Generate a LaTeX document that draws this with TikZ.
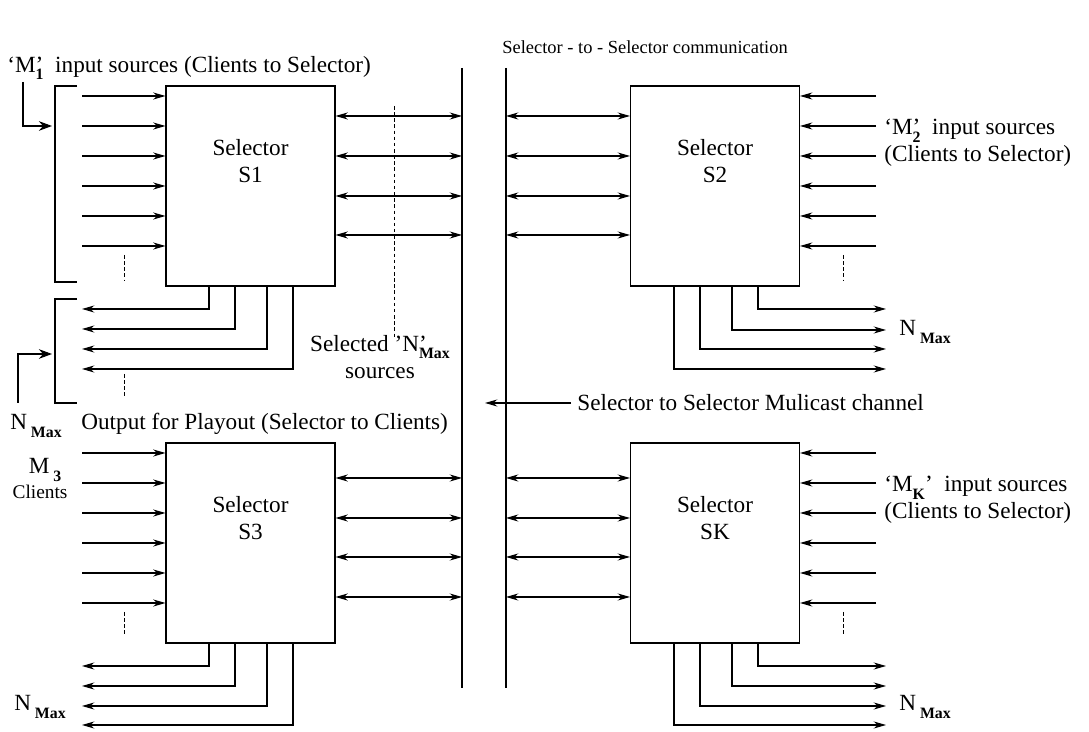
\documentclass[tikz,border=0pt]{standalone}
\usepackage{fontspec}
\setmainfont{Liberation Serif}
\usetikzlibrary{arrows.meta}

\newcommand{\lowsub}[1]{\raisebox{-0.7ex}{\fontsize{9}{10}\selectfont\bfseries #1}}
\newcommand{\nmax}{N\,\lowsub{Max}}

\begin{document}
\begin{tikzpicture}[x=0.02cm, y=-0.02cm, line width=0.6pt,
    font=\fontsize{13.2}{15.5}\selectfont,
    selbox/.style={draw, minimum width=3.38cm, minimum height=4cm, inner sep=0pt},
    arr/.style={-{Stealth[length=7pt, width=4pt]}},
    darr/.style={{Stealth[length=7pt, width=4pt]}-{Stealth[length=7pt, width=4pt]}},
    bigarr/.style={-{Stealth[length=7.5pt, width=5.5pt]}},
    dots/.style={dash pattern=on 2pt off 1.5pt, line width=0.5pt}]
    \useasboundingbox (0,0) rectangle (1089,732);

    \node[font=\fontsize{10.5}{12}\selectfont] at (645, 47) (title) {Selector - to - Selector communication};

    % multicast channel
    \coordinate (busLtop) at (462, 68);
    \coordinate (busLbot) at (462, 688);
    \coordinate (busRtop) at (506, 68);
    \coordinate (busRbot) at (506, 688);
    \draw (busLtop) -- (busLbot);
    \draw (busRtop) -- (busRbot);

    % selectors
    \node[selbox] at (250.5, 186) (s1) {};
    \node[selbox] at (715, 186)   (s2) {};
    \node[selbox] at (250.5, 543) (s3) {};
    \node[selbox] at (715, 543)   (sk) {};
    \node[align=center] at (250.5, 161) (s1txt) {Selector\\S1};
    \node[align=center] at (715, 161)   (s2txt) {Selector\\S2};
    \node[align=center] at (250.5, 518) (s3txt) {Selector\\S3};
    \node[align=center] at (715, 518)   (sktxt) {Selector\\SK};

    \coordinate (inL)  at (82, 0);
    \coordinate (inR)  at (876, 0);
    \coordinate (outR) at (886, 0);

    % input sources
    \foreach \y in {96,126,...,246} {
      \coordinate (i) at (82, \y);
      \draw[arr] (i) -- (i -| s1.west);
      \coordinate (j) at (876, \y);
      \draw[arr] (j) -- (j -| s2.east);
    }
    \foreach \y in {453,483,...,603} {
      \coordinate (i) at (82, \y);
      \draw[arr] (i) -- (i -| s3.west);
      \coordinate (j) at (876, \y);
      \draw[arr] (j) -- (j -| sk.east);
    }

    % selector to channel
    \foreach \y in {116,156,196,235} {
      \coordinate (b) at (0, \y);
      \draw[darr] (b -| s1.east) -- (b -| busLtop);
      \draw[darr] (b -| busRtop) -- (b -| s2.west);
    }
    \foreach \y in {478,518,557,597} {
      \coordinate (b) at (0, \y);
      \draw[darr] (b -| s3.east) -- (b -| busLtop);
      \draw[darr] (b -| busRtop) -- (b -| sk.west);
    }

    % outputs
    \foreach \x/\y in {209/309, 235/329, 267/349, 293/369} {
      \coordinate (o) at (\x, \y);
      \draw[arr] (o |- s1.south) |- (o -| inL);
    }
    \foreach \x/\y in {758/309, 732/330, 700/349, 674/369} {
      \coordinate (o) at (\x, \y);
      \draw[arr] (o |- s2.south) |- (o -| outR);
    }
    \foreach \x/\y in {209/666, 235/686, 267/706, 293/725} {
      \coordinate (o) at (\x, \y);
      \draw[arr] (o |- s3.south) |- (o -| inL);
    }
    \foreach \x/\y in {758/666, 732/686, 700/706, 674/725} {
      \coordinate (o) at (\x, \y);
      \draw[arr] (o |- sk.south) |- (o -| outR);
    }

    % brackets
    \draw (77,86) -- (55,86) -- (55,282) -- (77,282);
    \draw (77,299) -- (55,299) -- (55,403) -- (77,403);

    \draw[dots] (124,255) -- (124,280);
    \draw[dots] (124,374) -- (124,398);
    \draw[dots] (394,106) -- (394,338);
    \draw[dots] (843,255) -- (843,280);
    \draw[dots] (124,612) -- (124,636);
    \draw[dots] (843,612) -- (843,636);

    % labels
    \node[anchor=west] at (1, 68) (m1) {‘M\rlap{’}\lowsub{1}\ \ input sources (Clients to Selector)};
    \coordinate (m1foot) at (23, 82);
    \coordinate (brkA) at (52, 126);
    \draw[bigarr] (m1foot) |- (brkA);

    \node at (36, 426) (n1) {\nmax};
    \coordinate (nfoot) at (18, 403);
    \coordinate (brkB) at (52, 354);
    \draw[bigarr] (nfoot) |- (brkB);

    \node[anchor=west] at (75, 424) (play) {Output for Playout (Selector to Clients)};
    \node[align=center] at (380, 357) (seln) {Selected ’N\rlap{’}\lowsub{Max}\\sources};

    \node[anchor=west] at (571, 403) (mcast) {Selector to Selector Mulicast channel};
    \coordinate (busin) at (485, 403);
    \draw[arr] (mcast.west) -- (busin);

    \node[anchor=west, align=left] at (878, 143) (m2) {‘M\rlap{’}\lowsub{2}\ \ input sources\\(Clients to Selector)};
    \node[anchor=west] at (893, 332) (n2) {\nmax};

    \node at (45, 470) (m3) {M\,\lowsub{3}};
    \node[font=\fontsize{11}{13}\selectfont] at (40, 492) (cl) {Clients};

    \node[anchor=west, align=left] at (878, 500) (mk) {‘M\lowsub{K}’\ \ input sources\\(Clients to Selector)};

    \node at (40, 707) (n3) {\nmax};
    \node[anchor=west] at (893, 707) (n4) {\nmax};
\end{tikzpicture}
\end{document}
